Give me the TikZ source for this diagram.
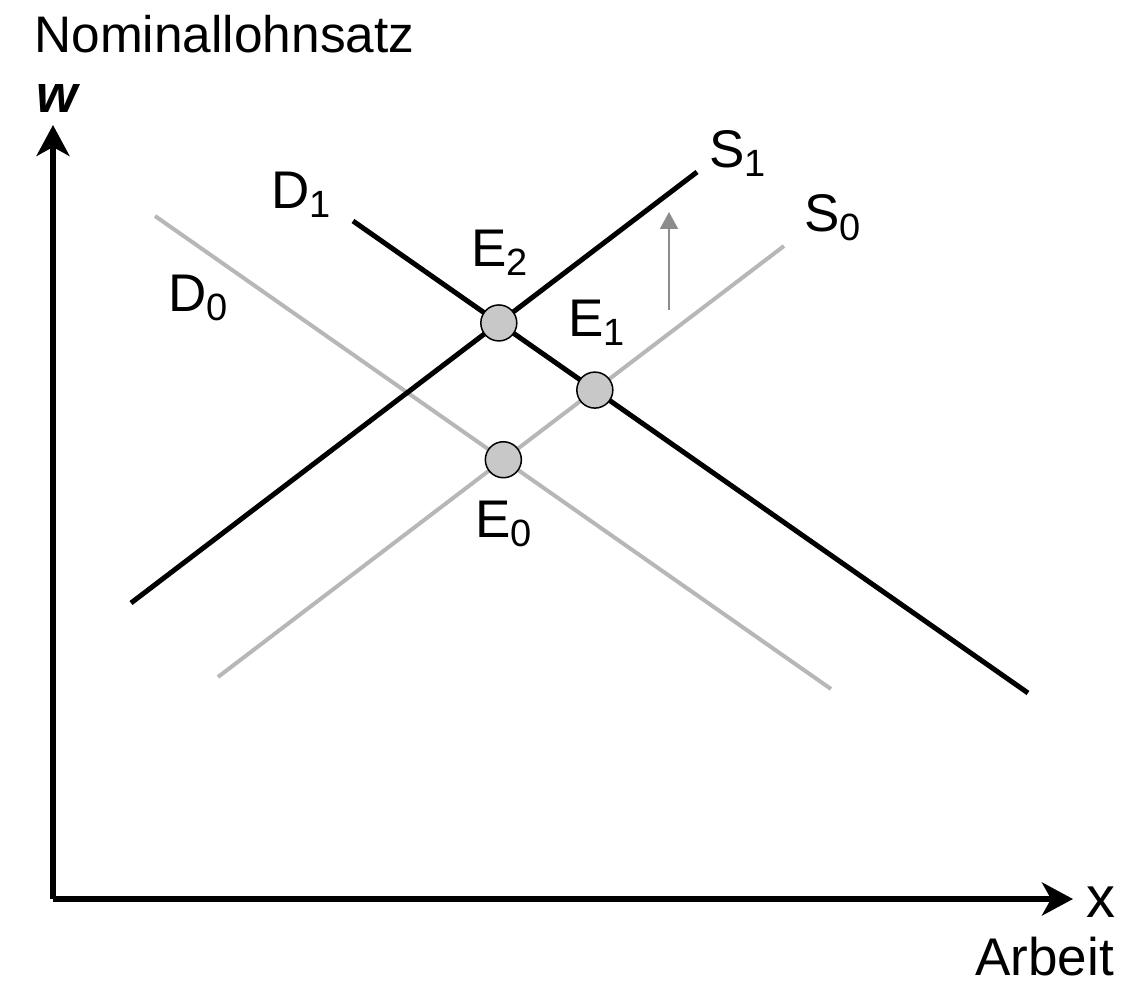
\documentclass[tikz,border=0pt]{standalone}
\usepackage{fontspec}
\setmainfont{Liberation Sans}
\usetikzlibrary{arrows.meta}
\definecolor{oldgray}{RGB}{183,183,183}
\definecolor{shiftgray}{RGB}{140,140,140}
\definecolor{dotgray}{RGB}{200,200,200}
\newcommand{\curvelbl}[2]{#1\raisebox{-4.5pt}{\fontsize{19}{19}\selectfont #2}}

\begin{document}
\begin{tikzpicture}[x=0.5pt,y=-0.5pt,>=Stealth,
    every node/.style={font=\fontsize{26.5}{30}\selectfont,inner sep=0pt},
    axis/.style={line width=3pt,-{Stealth[length=15.5pt,width=16.5pt,inset=4.5pt]}},
    oldcurve/.style={oldgray,line width=2pt},
    newcurve/.style={black,line width=2.5pt},
    eqdot/.style={circle,draw=black,line width=0.75pt,fill=dotgray,minimum size=18pt}]
    \useasboundingbox (0,0) rectangle (1128,1004);

    % Axes
    \coordinate (O) at (53,899);
    \coordinate (wtop) at (53,125);
    \coordinate (xend) at (1073,899);
    \draw[axis] (O) -- (wtop);
    \draw[axis] (O) -- (xend);
    \node[anchor=base west,font=\fontsize{25.7}{30}\selectfont] (ylab) at (34,53) {Nominallohnsatz};
    \node[anchor=base west] (w) at (36,113) {\textbf{\textit{w}}};
    \node[anchor=base west,font=\fontsize{29}{30}\selectfont] (x) at (1086,917) {x};
    \node[anchor=base west] (xlab) at (975,975) {Arbeit};

    % Curve end points
    \coordinate (D0a) at (155,216);
    \coordinate (D0b) at (831,689);
    \coordinate (S0a) at (218,677);
    \coordinate (S0b) at (784,246);
    \coordinate (D1a) at (353,221);
    \coordinate (D1b) at (1028,693);
    \coordinate (S1a) at (131,603);
    \coordinate (S1b) at (697,172);

    % Old curves
    \draw[oldcurve] (D0a) -- (D0b);
    \draw[oldcurve] (S0a) -- (S0b);

    % New curves
    \draw[newcurve] (D1a) -- (D1b);
    \draw[newcurve] (S1a) -- (S1b);

    % Shift of supply
    \coordinate (shiftlow) at (669,310);
    \coordinate (shifttop) at (669,212);
    \draw[shiftgray,line width=1pt,-{Triangle[length=8.5pt,width=9pt]}] (shiftlow) -- (shifttop);

    % Equilibria
    \node[eqdot] (E0) at (intersection of D0a--D0b and S0a--S0b) {};
    \node[eqdot] (E1) at (intersection of D1a--D1b and S0a--S0b) {};
    \node[eqdot] (E2) at (intersection of D1a--D1b and S1a--S1b) {};

    % Curve labels
    \node[anchor=base west] (S1lab) at (709,168) {\curvelbl{S}{1}};
    \node[anchor=base west] (S0lab) at (804,232) {\curvelbl{S}{0}};
    \node[anchor=base west] (D1lab) at (271,209) {\curvelbl{D}{1}};
    \node[anchor=base west] (D0lab) at (168,312) {\curvelbl{D}{0}};
    \node[anchor=base west] (E2lab) at (471,267) {\curvelbl{E}{2}};
    \node[anchor=base west] (E1lab) at (568,337) {\curvelbl{E}{1}};
    \node[anchor=base west] (E0lab) at (475,538) {\curvelbl{E}{0}};
\end{tikzpicture}
\end{document}
